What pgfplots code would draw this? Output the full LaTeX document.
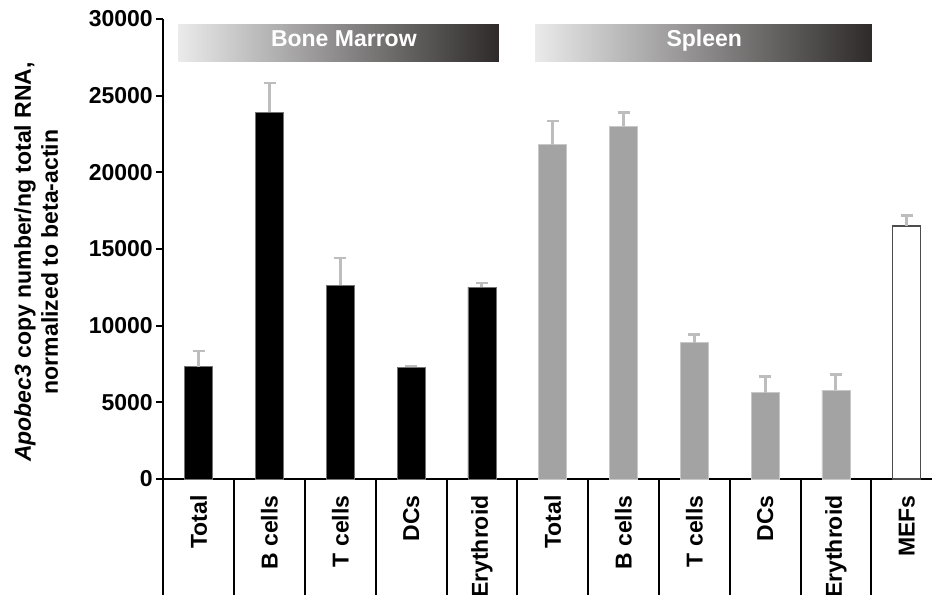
\documentclass[border=0pt]{standalone}
\usepackage{pgfplots}
\pgfplotsset{compat=1.18}
\usepackage{pgfplotstable}
\usepackage{fontspec}
\setmainfont{Liberation Sans}
\definecolor{bargray}{HTML}{A3A3A3}
\definecolor{baredge}{HTML}{C8C8C8}
\definecolor{errgray}{HTML}{BDBDBD}
\definecolor{bannerdark}{HTML}{2E2A2A}
\definecolor{bannermid}{HTML}{6E6A6A}
\newcommand{\fs}{\bfseries\fontsize{23bp}{27bp}\selectfont}

\pgfplotstableread{
x y e
0 7320 1030
1 23920 1910
2 12650 1770
3 7280 90
4 12520 260
}\bm
\pgfplotstableread{
x y e
5 21800 1550
6 23020 870
7 8890 545
8 5630 1040
9 5800 1030
}\sp
\pgfplotstableread{
x y e
10 16500 700
}\mef

\begin{document}
\begin{tikzpicture}
\begin{axis}[
  at={(0,0)}, anchor=south west,
  scale only axis, width=768.7bp, height=460bp,
  xmin=-0.5, xmax=10.357, ymin=0, ymax=30000,
  axis x line=bottom, axis y line=left,
  axis line style={-, line width=2bp, black},
  xtick={0,...,10},
  xticklabels={Total,B cells,T cells,DCs,Erythroid,Total,B cells,T cells,DCs,Erythroid,MEFs},
  xtick style={draw=none},
  extra x ticks={-0.5,0.5,...,9.5}, extra x tick labels={},
  extra x tick style={major tick length=116bp, tick align=outside,
     xtick style={draw=black, line width=2bp}},
  ytick={0,5000,...,30000},
  scaled y ticks=false,
  ytick style={line width=2bp, black},
  tick align=outside, major tick length=7bp,
  /pgf/number format/assume math mode=true,
  /pgf/number format/1000 sep={},
  yticklabel style={font=\fs},
  xticklabel style={font=\fs, yshift=-6bp, rotate=90, anchor=east},
  ybar, bar width=28bp,
]
\shade[left color=white!92!black, middle color=bannermid, right color=bannerdark]
  (axis cs:-0.288,27217) rectangle (axis cs:4.241,29609);
\shade[left color=white!92!black, middle color=bannermid, right color=bannerdark]
  (axis cs:4.750,27217) rectangle (axis cs:9.506,29609);
\node[anchor=base, text=white, font=\fs, inner sep=0pt] at (axis cs:2.05,28190) {Bone Marrow};
\node[anchor=base, text=white, font=\fs, inner sep=0pt] at (axis cs:7.14,28190) {Spleen};

\addplot[fill=black, draw=black!55, line width=0.6bp, bar shift=0pt,
  error bars/.cd, y dir=plus, y explicit,
  error bar style={errgray, line width=3bp},
  error mark options={rotate=90, errgray, mark size=6bp, line width=2.5bp}]
  table[x=x, y=y, y error=e]{\bm};
\addplot[fill=bargray, draw=baredge, line width=0.8bp, bar shift=0pt,
  error bars/.cd, y dir=plus, y explicit,
  error bar style={errgray, line width=3bp},
  error mark options={rotate=90, errgray, mark size=6bp, line width=2.5bp}]
  table[x=x, y=y, y error=e]{\sp};
\addplot[fill=white, draw=black!70, line width=1.5bp, bar shift=0pt,
  error bars/.cd, y dir=plus, y explicit,
  error bar style={errgray, line width=3bp},
  error mark options={rotate=90, errgray, mark size=6bp, line width=2.5bp}]
  table[x=x, y=y, y error=e]{\mef};
\end{axis}
\node[rotate=90, anchor=base, font=\fs, inner sep=0pt] at (-132.3bp,217bp)
  {\textit{Apobec3} copy number/ng total RNA,};
\node[rotate=90, anchor=base, font=\fs, inner sep=0pt] at (-105.3bp,217bp)
  {normalized to beta-actin};
\pgfresetboundingbox
\path[use as bounding box] (-163.3bp,-116bp) rectangle (768.7bp,479bp);
\end{tikzpicture}
\end{document}
